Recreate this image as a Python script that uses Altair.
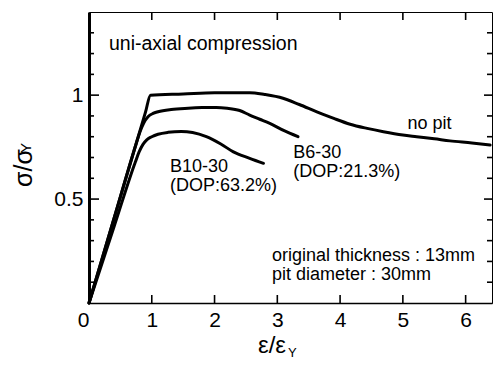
import altair as alt
import pandas as pd

FONT = "Liberation Sans"
W, H = 403, 291

# Normalised stress-strain curves: strain ε/εY  vs  stress σ/σY
nopit_x = [0, 0.45, 0.9, 0.98, 1.5, 2.0, 2.56, 2.8, 3.09, 3.35, 3.63, 3.9, 4.16, 4.43, 4.69, 5.0, 5.22, 5.5, 5.75, 6.1, 6.39]
nopit_y = [0, 0.46, 0.918, 1.0, 1.006, 1.012, 1.012, 1.003, 0.985, 0.955, 0.92, 0.888, 0.86, 0.84, 0.824, 0.808, 0.80, 0.79, 0.78, 0.77, 0.76]

b6_x = [0, 0.4, 0.75, 0.81, 0.87, 0.94, 1.02, 1.1, 1.31, 1.58, 1.8, 2.03, 2.2, 2.4, 2.56, 2.72, 2.88, 3.1, 3.33]
b6_y = [0, 0.408, 0.765, 0.822, 0.865, 0.896, 0.912, 0.92, 0.931, 0.937, 0.94, 0.941, 0.937, 0.926, 0.904, 0.884, 0.864, 0.83, 0.80]

b10_x = [0, 0.4, 0.74, 0.8, 0.86, 0.92, 1.0, 1.1, 1.26, 1.47, 1.65, 1.87, 2.1, 2.3, 2.56, 2.78]
b10_y = [0, 0.368, 0.68, 0.728, 0.763, 0.785, 0.80, 0.812, 0.821, 0.825, 0.82, 0.80, 0.765, 0.727, 0.696, 0.672]

# Axis ticks
x_ticks = [1, 2, 3, 4, 5, 6]
y_minor = [0.1, 0.2, 0.3, 0.4, 0.6, 0.7, 0.8, 0.9, 1.1, 1.2, 1.3]
y_major = [0.5, 1.0]

# In-plot annotations
ann_text = ["uni-axial compression", "no pit", "B6-30", "(DOP:21.3%)", "B10-30", "(DOP:63.2%)",
            "original thickness : 13mm", "pit diameter : 30mm"]
ann_x = [0.318, 5.075, 3.253, 3.253, 1.29, 1.29, 2.914, 2.914]
ann_y = [1.217, 0.835, 0.697, 0.606, 0.632, 0.539, 0.202, 0.111]
ann_size = [19.5, 18, 18, 18, 18, 18, 18, 18]

rows = []
for name, xs, ys in [("no pit", nopit_x, nopit_y), ("B6-30", b6_x, b6_y), ("B10-30", b10_x, b10_y)]:
    for i, (a, b) in enumerate(zip(xs, ys)):
        rows.append({"series": name, "order": i, "x": a, "y": b})
curves = pd.DataFrame(rows)

xscale = alt.Scale(domain=[0, 6.42], nice=False, zero=False)
yscale = alt.Scale(domain=[0, 1.4], nice=False, zero=False)

lines = alt.Chart(curves).mark_line(
    color="black", strokeWidth=3, interpolate="monotone", strokeCap="round", strokeJoin="round"
).encode(
    x=alt.X("x:Q", scale=xscale, axis=alt.Axis(
        values=[0, 1, 2, 3, 4, 5, 6], format="d", ticks=False, grid=False, title=None,
        domainColor="black", domainWidth=1.5, labelFont=FONT, labelFontSize=21,
        labelColor="black", labelPadding=6,
        labelAlign={"condition": {"test": "datum.value == 0", "value": "right"}, "value": "center"},
    )),
    y=alt.Y("y:Q", scale=yscale, axis=alt.Axis(
        values=[0.5, 1], format="~g", ticks=False, grid=False, title=None,
        domainColor="black", domainWidth=3, labelFont=FONT, labelFontSize=21,
        labelColor="black", labelPadding=6,
    )),
    detail="series:N",
    order="order:Q",
)

ytick_minor = pd.DataFrame({"y": y_minor})
ytick_major = pd.DataFrame({"y": y_major})
xtick_df = pd.DataFrame({"x": x_ticks})


def yticks(df, x_from, x_to):
    # inward-pointing tick marks on a vertical frame edge
    return alt.Chart(df).mark_rule(color="black", strokeWidth=1.6).encode(
        y=alt.Y("y:Q", scale=yscale),
        x=alt.value(x_from), x2=alt.value(x_to),
    )


def xticks(y_from, y_to):
    # inward-pointing tick marks on a horizontal frame edge
    return alt.Chart(xtick_df).mark_rule(color="black", strokeWidth=1.6).encode(
        x=alt.X("x:Q", scale=xscale),
        y=alt.value(y_from), y2=alt.value(y_to),
    )


ann = pd.DataFrame({"x": ann_x, "y": ann_y, "text": ann_text, "size": ann_size})
labels = alt.Chart(ann).mark_text(
    align="left", baseline="alphabetic", font=FONT, color="black"
).encode(
    x=alt.X("x:Q", scale=xscale),
    y=alt.Y("y:Q", scale=yscale),
    text="text:N",
    size=alt.Size("size:Q", scale=None, legend=None),
)

# Axis titles with subscripted Y
title_df = pd.DataFrame({"k": [0]})
xt_main = alt.Chart(title_df).mark_text(
    text="ε/ε", align="left", baseline="alphabetic", font=FONT, fontSize=24, color="black"
).encode(x=alt.value(169), y=alt.value(341))
xt_sub = alt.Chart(title_df).mark_text(
    text="Y", align="left", baseline="alphabetic", font=FONT, fontSize=13, color="black"
).encode(x=alt.value(199), y=alt.value(345))
yt_main = alt.Chart(title_df).mark_text(
    text="σ/σ", align="left", baseline="alphabetic", angle=270, font=FONT, fontSize=25, color="black"
).encode(x=alt.value(-57), y=alt.value(175))
yt_sub = alt.Chart(title_df).mark_text(
    text="Y", align="left", baseline="alphabetic", angle=270, font=FONT, fontSize=15, color="black"
).encode(x=alt.value(-58), y=alt.value(141))

chart = alt.layer(
    lines,
    yticks(ytick_minor, 0, 5), yticks(ytick_major, 0, 10),
    yticks(ytick_minor, W, W - 5), yticks(ytick_major, W, W - 8),
    xticks(H, H - 8), xticks(0, 8),
    labels, xt_main, xt_sub, yt_main, yt_sub,
).properties(
    width=W, height=H,
    padding={"left": 89, "top": 12, "right": 5, "bottom": 64},
    autosize=alt.AutoSizeParams(type="none"),
    background="white",
).configure_view(stroke="black", strokeWidth=1)

chart.save("out.html", embed_options={"renderer": "svg", "actions": False})
